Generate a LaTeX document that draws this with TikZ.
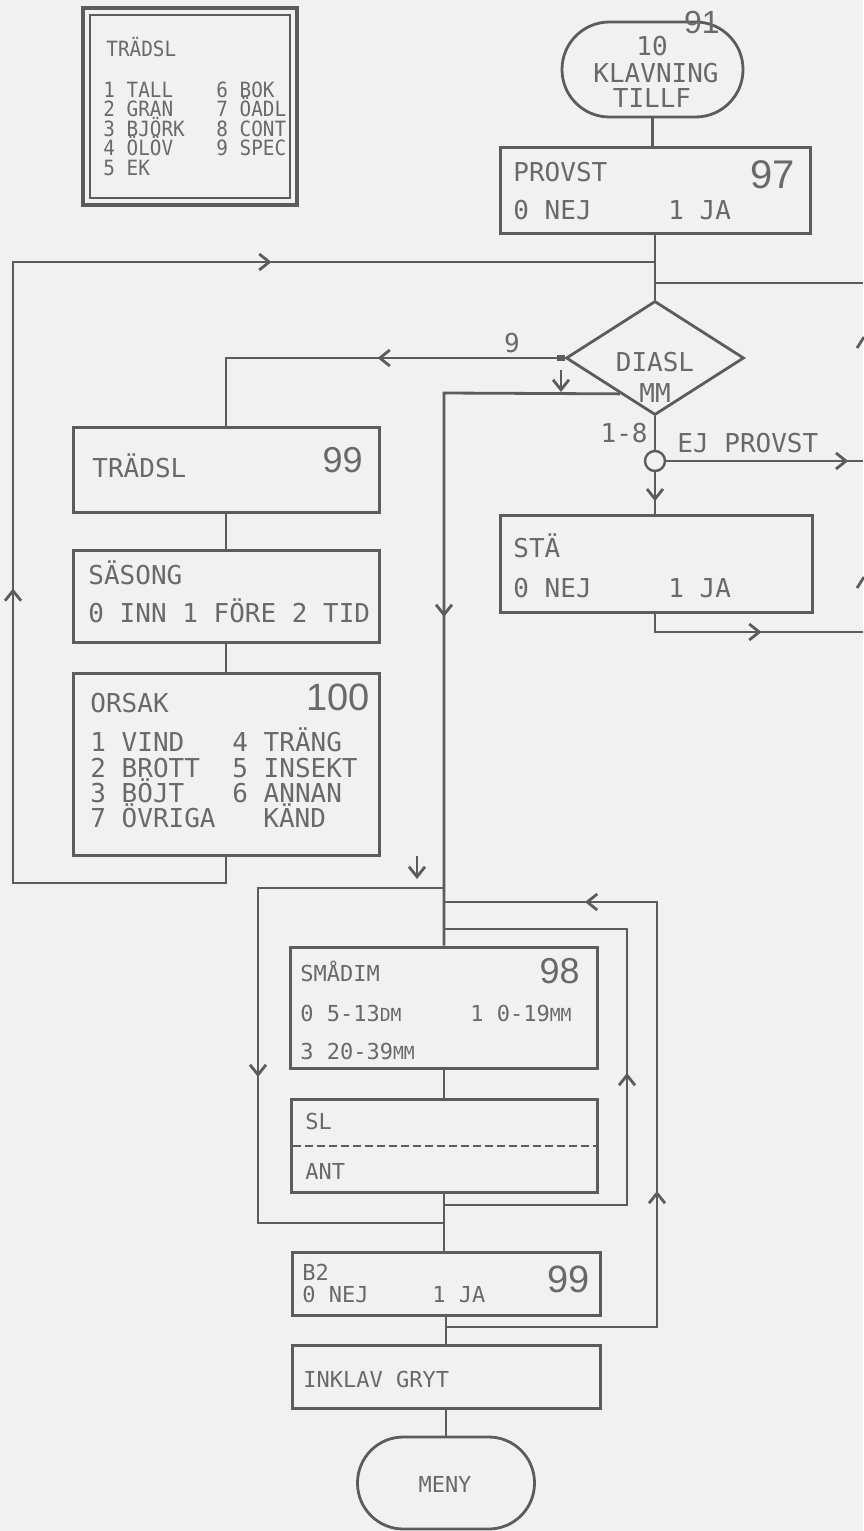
\documentclass[tikz,border=0pt]{standalone}
\usepackage{fontspec}
\usetikzlibrary{arrows.meta,shapes.geometric,decorations.markings,calc}
\newfontfamily\monof{DejaVu Sans Mono}
\newfontfamily\monoc[FakeStretch=0.92]{DejaVu Sans Mono}
\newfontfamily\numf{Liberation Sans}
\definecolor{lc}{RGB}{92,92,92}
\definecolor{tc}{RGB}{105,105,105}
\definecolor{bgc}{RGB}{241,241,241}
\tikzset{
  ln/.style={draw=lc, line width=1.4pt},
  box/.style={draw=lc, line width=1.5pt, rectangle, inner sep=0pt},
  txt/.style={text=tc, font=\monof\fontsize{13pt}{13pt}\selectfont, inner sep=0pt, anchor=base west},
  ltxt/.style={text=tc, font=\monoc\fontsize{10.5pt}{10.5pt}\selectfont, inner sep=0pt, anchor=base west},
  stxt/.style={text=tc, font=\monof\fontsize{11pt}{11pt}\selectfont, inner sep=0pt, anchor=base west},
  num/.style={text=tc, font=\numf\fontsize{#1}{#1}\selectfont, inner sep=0pt, anchor=base east},
  myarr/.tip={Straight Barb[length=5pt,width=8pt,line width=1.4pt]},
  arrat/.style={postaction={decorate,decoration={markings,mark=at position #1 with {\arrow{myarr}}}}},
}
\begin{document}
\begin{tikzpicture}[x=0.5pt,y=-0.5pt]
\fill[bgc] (0,0) rectangle (863,1531);
\useasboundingbox (0,0) rectangle (863,1531);

% ---------- legend ----------
\node[box, line width=1.7pt, minimum width=107pt, minimum height=98.5pt] (lego) at (190,106.5) {};
\node[box, line width=1.1pt, minimum width=100pt, minimum height=91.5pt] (legi) at (lego.center) {};
\node[ltxt] (lg0) at (106,56) {TRÄDSL};
\node[ltxt] (lg1) at (103,97) {1 TALL};
\node[ltxt] (lg2) at (103,116.5) {2 GRAN};
\node[ltxt] (lg3) at (103,136) {3 BJÖRK};
\node[ltxt] (lg4) at (103,155.5) {4 ÖLÖV};
\node[ltxt] (lg5) at (103,175) {5 EK};
\node[ltxt] (lg6) at (216,97) {6 BOK};
\node[ltxt] (lg7) at (216,116.5) {7 ÖADL};
\node[ltxt] (lg8) at (216,136) {8 CONT};
\node[ltxt] (lg9) at (216,155.5) {9 SPEC};

% ---------- start ----------
\node[draw=lc, line width=1.4pt, minimum width=90.5pt, minimum height=47.5pt, rounded corners=23.7pt, inner sep=0pt] (stad) at (652.5,69.5) {};
\node[txt, anchor=base] (s10) at (652,55) {10};
\node[txt, anchor=base] (skl) at (656,82) {KLAVNING};
\node[txt, anchor=base] (sti) at (652,107) {TILLF};
\node[num=16pt] (n91) at (720,33) {91};

% ---------- PROVST ----------
\node[box, minimum width=155pt, minimum height=43pt] (provst) at (655,190) {};
\node[txt] (pv1) at (513,181) {PROVST};
\node[num=20pt] (n97) at (795,188) {97};
\node[txt] (pv2) at (513,219) {0 NEJ};
\node[txt] (pv3) at (668,219) {1 JA};

% ---------- diamond ----------
\node[draw=lc, line width=1.4pt, diamond, minimum width=89pt, minimum height=57pt, inner sep=0pt] (dia) at (655,358) {};
\node[txt, anchor=base] (dt1) at (655,371) {DIASL};
\node[txt, anchor=base] (dt2) at (655,402) {MM};
\node[txt, anchor=base] (l9) at (512,352) {9};
\node[txt, anchor=base east] (l18) at (648,442) {1-8};
\node[txt] (lej) at (677,452) {EJ PROVST};

\node[draw=lc, line width=1.2pt, circle, minimum size=10pt, inner sep=0pt, fill=bgc] (cir) at (655,461) {};

% ---------- STÄ ----------
\node[box, minimum width=156pt, minimum height=48.5pt] (sta) at (656,563.5) {};
\node[txt] (st1) at (513,557) {STÄ};
\node[txt] (st2) at (513,597) {0 NEJ};
\node[txt] (st3) at (668,597) {1 JA};

% ---------- left column ----------
\node[box, minimum width=153pt, minimum height=42.5pt] (trad) at (226,469.5) {};
\node[txt] (tr1t) at (92,477) {TRÄDSL};
\node[num=18pt] (n99a) at (363,472) {99};

\node[box, minimum width=153pt, minimum height=46pt] (sason) at (226,596) {};
\node[txt] (ss1) at (88,584) {SÄSONG};
\node[txt] (ss2) at (88,622) {0 INN 1 FÖRE 2 TID};

\node[box, minimum width=153pt, minimum height=91pt] (orsak) at (226,764) {};
\node[txt] (or0) at (90,712) {ORSAK};
\node[num=19pt] (n100) at (370,710) {100};
\node[txt] (or1) at (90,751) {1 VIND};
\node[txt] (or2) at (90,777) {2 BROTT};
\node[txt] (or3) at (90,802) {3 BÖJT};
\node[txt] (or4) at (90,827) {7 ÖVRIGA};
\node[txt] (or5) at (232,751) {4 TRÄNG};
\node[txt] (or6) at (232,777) {5 INSEKT};
\node[txt] (or7) at (232,802) {6 ANNAN};
\node[txt] (or8) at (263,827) {KÄND};

% ---------- bottom column ----------
\node[box, minimum width=153.5pt, minimum height=60.5pt] (smadim) at (444,1007.5) {};
\node[stxt] (sm1) at (300,981) {SMÅDIM};
\node[num=18pt] (n98) at (580,983) {98};
\node[stxt] (sm2) at (300,1021) {0 5-13{\fontsize{9pt}{9pt}\selectfont DM}};
\node[stxt] (sm3) at (470,1021) {1 0-19{\fontsize{9pt}{9pt}\selectfont MM}};
\node[stxt] (sm4) at (300,1059) {3 20-39{\fontsize{9pt}{9pt}\selectfont MM}};

\node[box, minimum width=153pt, minimum height=46.5pt] (sl) at (444,1145.5) {};
\node[stxt] (sl1) at (305,1129) {SL};
\node[stxt] (sl2) at (305,1179) {ANT};
\draw[lc, line width=1pt, dash pattern=on 4pt off 2pt] (sl.west) ++(3,0) coordinate (dsa) -- (sl.east) ++(-5,0) coordinate (dsb);

\node[box, minimum width=154pt, minimum height=31.5pt] (b2) at (446,1283.5) {};
\node[stxt] (b21) at (302,1280) {B2};
\node[stxt] (b22) at (302,1302) {0 NEJ};
\node[stxt] (b23) at (432,1302) {1 JA};
\node[num=19pt] (n99b) at (590,1292) {99};

\node[box, minimum width=154pt, minimum height=31.5pt] (inklav) at (446,1376.5) {};
\node[stxt] (ik) at (303,1387) {INKLAV GRYT};

\node[draw=lc, line width=1.4pt, minimum width=88.5pt, minimum height=46pt, rounded corners=22.9pt, inner sep=0pt] (meny) at (446,1483) {};
\node[stxt, anchor=base] (mn) at (445,1492) {MENY};

% ---------- coordinates ----------
\coordinate (j1) at (655,262);
\coordinate (j2) at (655,283);
\coordinate (re1) at (863,283);
\coordinate (re2) at (863,461);
\coordinate (re3) at (863,632);
\coordinate (s1) at (655,632);
\coordinate (fb1) at (226,883);
\coordinate (fb2) at (13,883);
\coordinate (fb3) at (13,262);
\coordinate (dl1) at (226,358);
\coordinate (dlp) at ($(dia.west)!0.614!(dia.south)$);
\coordinate (tr1) at (444,393);
\coordinate (L1) at (444,888);
\coordinate (L2) at (444,902);
\coordinate (L3) at (444,929);
\coordinate (L4) at (444,1205);
\coordinate (L5) at (444,1223);
\coordinate (L6) at (446,1327);
\coordinate (ol1) at (258,888);
\coordinate (ol2) at (258,1223);
\coordinate (mr1) at (657,1327);
\coordinate (mr2) at (657,902);
\coordinate (ir1) at (627,1205);
\coordinate (ir2) at (627,929);

% ---------- connectors ----------
\draw[ln] (stad.south) -- (stad.south |- provst.north);
\draw[ln] (provst.south) -- (dia.north);
\draw[ln] (j2) -- (re1);
\draw[ln, arrat=267pt, arrat=559.5pt] (orsak.south) -- (fb1) -- (fb2) -- (fb3) -- (j1);
\draw[ln, arrat=93.5pt] (dia.west) -- (dl1) -- (trad.north);
\draw[lc, line width=3pt] (dia.west) -- ++(-8,0) coordinate (dtk);
\draw[ln, arrat=200pt] (dlp) -- (tr1) -- (smadim.north -| tr1);
\draw[ln] (dia.south) -- (cir.north);
\draw[ln, arrat=14.5pt] (cir.south) -- (sta.north -| cir.south);
\draw[ln, arrat=91pt] (cir.east) -- (re2);
\draw[ln, arrat=62.5pt] (sta.south -| cir.south) -- (s1) -- (re3);
\draw[ln] (trad.south) -- (sason.north);
\draw[ln] (sason.south) -- (orsak.north);
\draw[ln] (smadim.south) -- (sl.north);
\draw[ln] (sl.south) -- (sl.south |- b2.north);
\draw[ln] (b2.south) -- (inklav.north);
\draw[ln] (inklav.south) -- (inklav.south |- meny.north);
\draw[ln, arrat=187.5pt] (L1) -- (ol1) -- (ol2) -- (L5);
\draw[ln, arrat=173.5pt, arrat=354pt] (L6) -- (mr1) -- (mr2) -- (L2);
\draw[ln, arrat=157.5pt] (L4) -- (ir1) -- (ir2) -- (L3);

% free arrow marks
\coordinate (fa1) at (417,856); \coordinate (fa2) at (417,879);
\draw[ln, -{myarr}] (fa1) -- (fa2);
\coordinate (fb4) at (561,370); \coordinate (fb5) at (561,392);
\draw[ln, -{myarr}] (fb4) -- (fb5);
% partial arrowheads at right edge
\coordinate (pa1) at (864,337); \coordinate (pa2) at (857,348);
\draw[ln] (pa1) -- (pa2);
\coordinate (pa3) at (864,577); \coordinate (pa4) at (857,588);
\draw[ln] (pa3) -- (pa4);
\end{tikzpicture}
\end{document}
